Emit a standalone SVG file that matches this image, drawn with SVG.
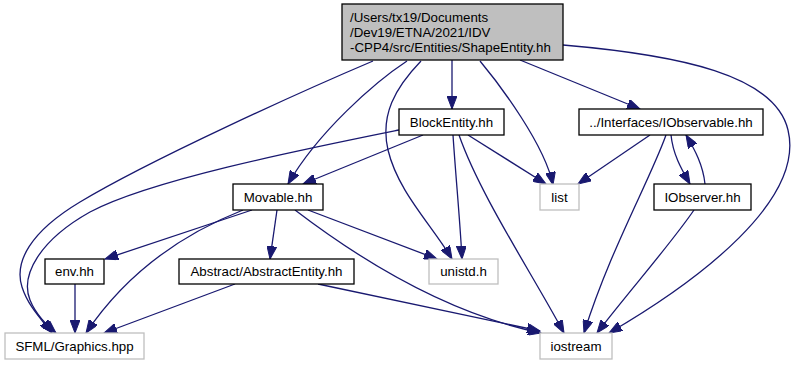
<svg xmlns="http://www.w3.org/2000/svg" width="798" height="365" viewBox="0 0 798 365">
  <style>
    .box { fill: #ffffff; stroke: #000000; stroke-width: 1.3; }
    .ext { fill: #ffffff; stroke: #bfbfbf; stroke-width: 1.3; }
    .root { fill: #bfbfbf; stroke: #000000; stroke-width: 1.3; }
    text { font-family: "Liberation Sans", Arial, Helvetica, sans-serif; font-size: 13.3px; fill: #000000; }
    .c { text-anchor: middle; }
    .edge { fill: none; stroke: #191970; stroke-width: 1.3; marker-end: url(#arrow); }
  </style>
  <defs>
    <marker id="arrow" markerUnits="userSpaceOnUse" markerWidth="14" markerHeight="10" refX="13" refY="5" orient="auto" viewBox="0 0 14 10">
      <path d="M0,0 L13,5 L0,10 z" fill="#191970" stroke="#191970" stroke-width="1"/>
    </marker>
  </defs>
  <rect width="798" height="365" fill="#ffffff"/>

  <g id="edges">
    <!-- ShapeEntity.hh includes -->
    <path class="edge" d="M452,60 L452,109"/>
    <path class="edge" d="M407,61 C375,82 318,132 288,184"/>
    <path class="edge" d="M421,61 C395,88 380,115 388,150 C398,192 432,225 452,259"/>
    <path class="edge" d="M480,61 C500,85 545,145 553,185"/>
    <path class="edge" d="M520,60 L640,109"/>
    <path class="edge" d="M563,45 C680,55 775,75 788,130 C805,200 700,280 609,333"/>
    <path class="edge" d="M373,61 C300,92 150,160 80,202 C30,232 14,262 22,287 C28,306 42,320 52,333"/>
    <!-- BlockEntity.hh includes -->
    <path class="edge" d="M399,130 C300,150 150,180 90,212 C40,240 20,275 30,300 C36,315 47,325 56,333"/>
    <path class="edge" d="M423,135 L303,184"/>
    <path class="edge" d="M453,135 C456,180 460,220 462,259"/>
    <path class="edge" d="M468,135 L546,184"/>
    <path class="edge" d="M459,135 C480,195 530,270 564,333"/>
    <!-- Movable.hh includes -->
    <path class="edge" d="M252,210 L105,259"/>
    <path class="edge" d="M243,210 C180,235 125,275 86,333"/>
    <path class="edge" d="M277,210 L270,259"/>
    <path class="edge" d="M308,210 L437,259"/>
    <path class="edge" d="M295,210 C350,252 440,312 541,333"/>
    <!-- Abstract/AbstractEntity.hh includes -->
    <path class="edge" d="M235,284 L104,333"/>
    <path class="edge" d="M318,284 L540,331"/>
    <!-- env.hh includes -->
    <path class="edge" d="M75,284 L75,333"/>
    <!-- IObservable.hh includes -->
    <path class="edge" d="M650,135 L578,184"/>
    <path class="edge" d="M666,135 C650,180 610,250 584,333"/>
    <path class="edge" d="M671,135 C673,155 682,170 690,184"/>
    <!-- IObserver.hh includes -->
    <path class="edge" d="M705,184 C703,165 695,150 686,135"/>
    <path class="edge" d="M694,210 C670,245 630,290 597,333"/>
  </g>

  <g id="node-shapeentity">
    <rect class="root" x="342" y="4" width="221" height="56"/>
    <text x="350" y="22">/Users/tx19/Documents</text>
    <text x="350" y="37">/Dev19/ETNA/2021/IDV</text>
    <text x="350" y="52">-CPP4/src/Entities/ShapeEntity.hh</text>
  </g>
  <g id="node-blockentity">
    <rect class="box" x="399" y="109" width="105" height="26"/>
    <text class="c" x="451.5" y="127">BlockEntity.hh</text>
  </g>
  <g id="node-iobservable">
    <rect class="box" x="579" y="109" width="184" height="26"/>
    <text class="c" x="671" y="127">../Interfaces/IObservable.hh</text>
  </g>
  <g id="node-movable">
    <rect class="box" x="233" y="184" width="90" height="26"/>
    <text class="c" x="278" y="202">Movable.hh</text>
  </g>
  <g id="node-list">
    <rect class="ext" x="540" y="184" width="39" height="26"/>
    <text class="c" x="559.5" y="202">list</text>
  </g>
  <g id="node-iobserver">
    <rect class="box" x="654" y="184" width="97" height="26"/>
    <text class="c" x="702.5" y="202">IObserver.hh</text>
  </g>
  <g id="node-env">
    <rect class="box" x="45" y="259" width="59" height="25"/>
    <text class="c" x="74.5" y="276">env.hh</text>
  </g>
  <g id="node-abstractentity">
    <rect class="box" x="179" y="259" width="175" height="25"/>
    <text class="c" x="266.5" y="276">Abstract/AbstractEntity.hh</text>
  </g>
  <g id="node-unistd">
    <rect class="ext" x="429" y="259" width="69" height="25"/>
    <text class="c" x="463.5" y="276">unistd.h</text>
  </g>
  <g id="node-sfml">
    <rect class="ext" x="5" y="333" width="139" height="26"/>
    <text class="c" x="74.5" y="351">SFML/Graphics.hpp</text>
  </g>
  <g id="node-iostream">
    <rect class="ext" x="540" y="333" width="72" height="26"/>
    <text class="c" x="576" y="351">iostream</text>
  </g>
</svg>
